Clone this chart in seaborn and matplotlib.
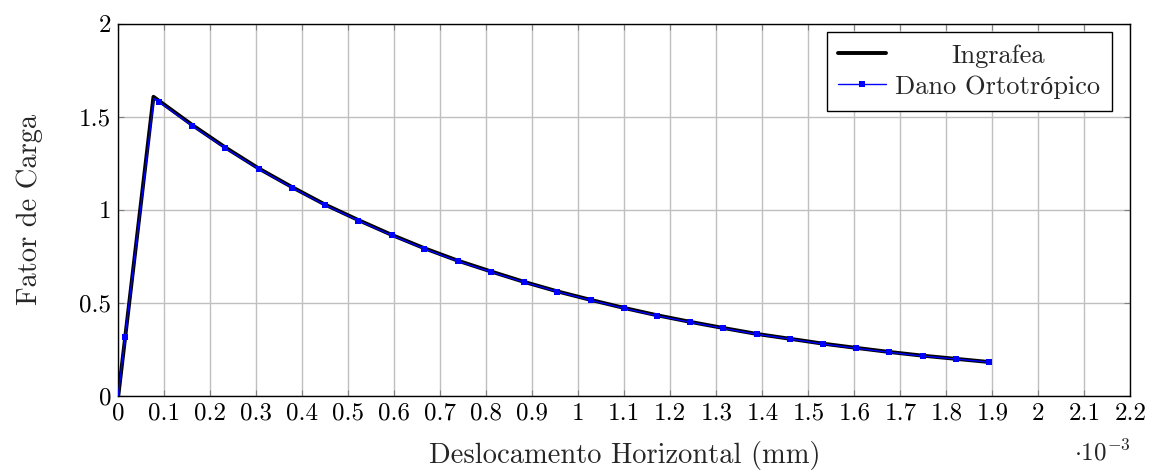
import matplotlib
matplotlib.use("Agg")
import matplotlib.pyplot as plt
import seaborn as sns
import pandas as pd
from matplotlib.offsetbox import VPacker, DrawingArea

# Data (x in 1e-3 mm)
ingrafea_x = [0.0, 0.0764, 0.161, 0.233, 0.305, 0.378, 0.449, 0.522, 0.594, 0.665,
              0.738, 0.810, 0.882, 0.954, 1.027, 1.099, 1.170, 1.243, 1.315, 1.388,
              1.460, 1.531, 1.604, 1.676, 1.749, 1.821, 1.893]
ingrafea_y = [0.0, 1.607, 1.455, 1.334, 1.222, 1.121, 1.028, 0.944, 0.865, 0.793,
              0.726, 0.668, 0.612, 0.561, 0.515, 0.472, 0.433, 0.397, 0.364, 0.332,
              0.306, 0.280, 0.257, 0.235, 0.215, 0.198, 0.181]

dano_x = [0.0, 0.0146, 0.0775, 0.0878, 0.161, 0.233, 0.305, 0.378, 0.449, 0.522, 0.594,
          0.665, 0.738, 0.810, 0.882, 0.954, 1.027, 1.099, 1.170, 1.243, 1.315, 1.388,
          1.460, 1.531, 1.604, 1.676, 1.749, 1.821, 1.893]
dano_y = [0.0, 0.317, 1.598, 1.581, 1.450, 1.330, 1.219, 1.118, 1.025, 0.941, 0.862,
          0.790, 0.723, 0.665, 0.610, 0.559, 0.513, 0.470, 0.430, 0.395, 0.362, 0.330,
          0.305, 0.278, 0.255, 0.233, 0.213, 0.197, 0.180]
dano_marked = [1] + list(range(3, len(dano_x)))

xticks = [0, 0.1, 0.2, 0.3, 0.4, 0.5, 0.6, 0.7, 0.8, 0.9, 1.0, 1.1, 1.2, 1.3, 1.4,
          1.5, 1.6, 1.7, 1.8, 1.9, 2.0, 2.1, 2.2]
xticklabels = ["0", "0.1", "0.2", "0.3", "0.4", "0.5", "0.6", "0.7", "0.8", "0.9", "1",
               "1.1", "1.2", "1.3", "1.4", "1.5", "1.6", "1.7", "1.8", "1.9", "2",
               "2.1", "2.2"]
yticks = [0, 0.5, 1.0, 1.5, 2.0]
yticklabels = ["0", "0.5", "1", "1.5", "2"]

sns.set_theme(style="whitegrid")
plt.rcParams["font.family"] = ["cmr10", "Liberation Serif"]
plt.rcParams["mathtext.fontset"] = "cm"
plt.rcParams["axes.unicode_minus"] = False

fig = plt.figure(figsize=(11.52, 4.72), dpi=100)
ax = fig.add_axes([0.1027, 0.1617, 0.8785, 0.7881])

df_i = pd.DataFrame({"x": ingrafea_x, "y": ingrafea_y})
df_d = pd.DataFrame({"x": dano_x, "y": dano_y})

sns.lineplot(data=df_i, x="x", y="y", sort=False, ax=ax, color="black",
             linewidth=2.8, label="Ingrafea", zorder=3)
sns.lineplot(data=df_d, x="x", y="y", sort=False, ax=ax, color="#0000ff",
             linewidth=1.0, marker="s", markersize=4.8, markeredgewidth=0,
             markevery=dano_marked, label="Dano Ortotrópico", zorder=4)

ax.set_xlim(0, 2.2)
ax.set_ylim(0, 2)
ax.set_xticks(xticks)
ax.set_xticklabels(xticklabels)
ax.set_yticks(yticks)
ax.set_yticklabels(yticklabels)
ax.grid(True, color="#bfbfbf", linewidth=1.0)
ax.set_facecolor("white")
for s in ax.spines.values():
    s.set_color("black")
    s.set_linewidth(1.0)
ax.tick_params(axis="both", direction="in", length=4, width=0.8, color="#808080",
               labelsize=18, pad=5, top=True, right=True, bottom=True, left=True,
               labelcolor="black")

ax.set_xlabel("Deslocamento Horizontal (mm)", fontsize=20.5)
ax.set_ylabel("Fator de Carga", fontsize=20.5)
ax.xaxis.set_label_coords(0.5, -0.123)
ax.yaxis.set_label_coords(-0.074, 0.5)
ax.text(1.0007, -0.173, r"$\cdot 10^{-3}$", transform=ax.transAxes, fontsize=18,
        ha="right", va="baseline")

leg = ax.legend(loc="upper right", fontsize=19, frameon=True, fancybox=False,
                edgecolor="black", framealpha=1, borderpad=0.45, handlelength=1.8,
                handletextpad=0.35, labelspacing=0.28,
                bbox_to_anchor=(0.982, 0.9777), borderaxespad=0)
leg.get_frame().set_linewidth(1.0)

# center legend texts (as in the reference)
try:
    fig.canvas.draw()
    r = fig.canvas.get_renderer()
    widths = [t.get_window_extent(r).width for t in leg.get_texts()]
    maxw = max(widths) * 72.0 / fig.dpi
    for col in leg._legend_handle_box.get_children():
        for hp in col.get_children():
            ch = hp.get_children()
            tb = ch[-1]
            spacer = DrawingArea(maxw, 0)
            ch[-1] = VPacker(children=[tb, spacer], align="center", pad=0, sep=0)
except Exception:
    pass

fig.savefig("out.png", dpi=100)
